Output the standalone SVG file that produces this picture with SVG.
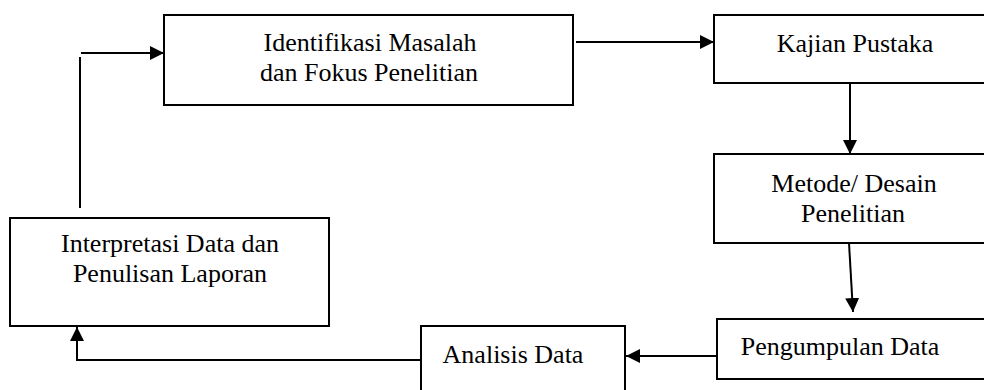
<svg xmlns="http://www.w3.org/2000/svg" width="984" height="390" viewBox="0 0 984 390">
<style>
.box{fill:#fff;stroke:#000;stroke-width:2}
.t{font-family:"Liberation Serif","Times New Roman",serif;font-size:26px;fill:#000;text-anchor:middle}
.c{fill:none;stroke:#000;stroke-width:2}
</style>
<defs>
<marker id="ah" markerUnits="userSpaceOnUse" markerWidth="14" markerHeight="14" refX="14" refY="7" orient="auto">
<path d="M0,0 L14,7 L0,14 z" fill="#000"/>
</marker>
</defs>
<rect width="984" height="390" fill="#fff"/>
<g id="connectors">
<line class="c" x1="80" y1="208" x2="80" y2="57"/>
<line class="c" x1="81" y1="53" x2="164" y2="53" marker-end="url(#ah)"/>
<line class="c" x1="576" y1="42" x2="714" y2="42" marker-end="url(#ah)"/>
<line class="c" x1="850" y1="84" x2="850" y2="154" marker-end="url(#ah)"/>
<line class="c" x1="849" y1="243" x2="853" y2="312" marker-end="url(#ah)"/>
<line class="c" x1="717" y1="356" x2="626" y2="356" marker-end="url(#ah)"/>
<polyline class="c" points="421,360 77,360 77,327" marker-end="url(#ah)"/>
</g>
<g id="identifikasi">
<rect class="box" x="164" y="15" width="409" height="90"/>
<text class="t" x="370" y="51">Identifikasi Masalah</text>
<text class="t" x="369" y="81">dan Fokus Penelitian</text>
</g>
<g id="kajian">
<rect class="box" x="714" y="15" width="290" height="68"/>
<text class="t" x="855" y="52">Kajian Pustaka</text>
</g>
<g id="metode">
<rect class="box" x="714" y="154" width="290" height="89"/>
<text class="t" x="854" y="192">Metode/ Desain</text>
<text class="t" x="853" y="222">Penelitian</text>
</g>
<g id="pengumpulan">
<rect class="box" x="717" y="319" width="290" height="60"/>
<text class="t" x="840" y="355">Pengumpulan Data</text>
</g>
<g id="analisis">
<rect class="box" x="421" y="326" width="204" height="80"/>
<text class="t" x="513" y="363">Analisis Data</text>
</g>
<g id="interpretasi">
<rect class="box" x="10" y="218" width="319" height="108"/>
<text class="t" x="170" y="252">Interpretasi Data dan</text>
<text class="t" x="170" y="282">Penulisan Laporan</text>
</g>
</svg>
